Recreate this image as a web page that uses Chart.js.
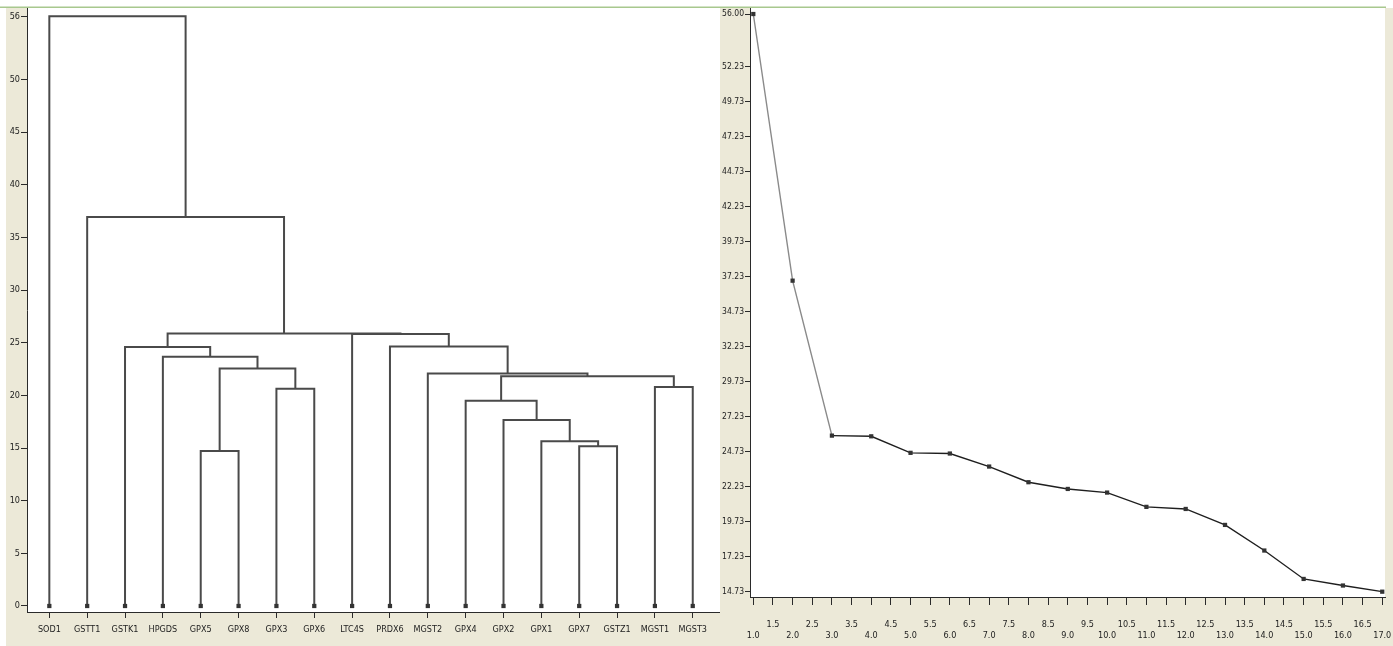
<!DOCTYPE html>
<html>
<head>
<meta charset="utf-8">
<script src="https://cdn.jsdelivr.net/npm/chart.js@4.4.1/dist/chart.umd.min.js"></script>
<style>
  html, body { margin: 0; padding: 0; background: #fff; width: 1393px; height: 646px; overflow: hidden; position: relative; }
  canvas { position: absolute; top: 0; }
  #dendro { left: 0; z-index: 1; }
  #scree { left: 720px; z-index: 2; }
</style>
</head>
<body>
<canvas id="dendro" width="760" height="646"></canvas>
<canvas id="scree" width="673" height="646"></canvas>
<script>
// Leaves of the dendrogram, left to right
const genes = ['SOD1', 'GSTT1', 'GSTK1', 'HPGDS', 'GPX5', 'GPX8', 'GPX3', 'GPX6', 'LTC4S',
               'PRDX6', 'MGST2', 'GPX4', 'GPX2', 'GPX1', 'GPX7', 'GSTZ1', 'MGST1', 'MGST3'];

// Agglomeration schedule: merge k joins node mergeA[k] with node mergeB[k].
// Nodes 0..17 are leaves, node 18+k is the cluster created by merge k.
const mergeA = [4, 14, 13, 12, 11, 6, 16, 22, 10, 18, 3, 2, 9, 8, 29, 1, 0];
const mergeB = [5, 15, 19, 20, 21, 7, 17, 24, 25, 23, 27, 28, 26, 30, 31, 32, 33];

// Fusion coefficients per stage (scree plot, largest first)
const stages = [1, 2, 3, 4, 5, 6, 7, 8, 9, 10, 11, 12, 13, 14, 15, 16, 17];
const coefficients = [56.00, 36.95, 25.88, 25.83, 24.65, 24.60, 23.67, 22.55, 22.07,
                      21.81, 20.79, 20.64, 19.50, 17.67, 15.64, 15.17, 14.73];

// Tick values
const dendroYTicks = [0, 5, 10, 15, 20, 25, 30, 35, 40, 45, 50, 56];
const screeYTicks = [14.73, 17.23, 19.73, 22.23, 24.73, 27.23, 29.73, 32.23, 34.73,
                     37.23, 39.73, 42.23, 44.73, 47.23, 49.73, 52.23, 56.00];
const screeXTicks = [1.0, 1.5, 2.0, 2.5, 3.0, 3.5, 4.0, 4.5, 5.0, 5.5, 6.0, 6.5, 7.0, 7.5,
                     8.0, 8.5, 9.0, 9.5, 10.0, 10.5, 11.0, 11.5, 12.0, 12.5, 13.0, 13.5,
                     14.0, 14.5, 15.0, 15.5, 16.0, 16.5, 17.0];

const FONT = "'Liberation Sans Narrow','Arial Narrow','DejaVu Sans Condensed','Liberation Sans',Arial,sans-serif";
const BEIGE = '#ece9d8';
const AXIS = '#2a2a2a';
const TEXT = '#222';

Chart.defaults.font.family = FONT;
Chart.defaults.font.size = 9;
Chart.defaults.color = TEXT;

// Beige frame, white plotting area and the thin green rule along the top
function makePanel(leftGap) {
  return {
    id: 'panel',
    beforeDraw(chart) {
      const { ctx, chartArea: a, width, height } = chart;
      ctx.save();
      ctx.fillStyle = '#fff';
      ctx.fillRect(0, 0, width, height);
      ctx.fillStyle = BEIGE;
      ctx.fillRect(leftGap, 8, width - leftGap, height - 8);
      ctx.fillStyle = '#fff';
      ctx.fillRect(a.left, a.top, a.right - a.left, a.bottom - a.top);
      ctx.strokeStyle = '#a8c88e';
      ctx.lineWidth = 1.5;
      ctx.beginPath();
      ctx.moveTo(0, 7.25);
      ctx.lineTo(a.right + 1, 7.25);
      ctx.stroke();
      ctx.restore();
    }
  };
}

// ---------- Dendrogram ----------
const mergeHeights = coefficients.slice().reverse();
const nodeX = genes.map((g, i) => i);
const nodeY = genes.map(() => 0);
const linkSets = [];
mergeA.forEach((a, k) => {
  const b = mergeB[k];
  const h = mergeHeights[k];
  linkSets.push({
    data: [
      { x: nodeX[a], y: nodeY[a] },
      { x: nodeX[a], y: h },
      { x: nodeX[b], y: h },
      { x: nodeX[b], y: nodeY[b] }
    ],
    showLine: true,
    borderColor: '#4a4a4a',
    borderWidth: 2,
    borderJoinStyle: 'miter',
    borderCapStyle: 'butt',
    pointRadius: 0,
    tension: 0
  });
  nodeX.push((nodeX[a] + nodeX[b]) / 2);
  nodeY.push(h);
});

new Chart(document.getElementById('dendro'), {
  type: 'scatter',
  data: {
    datasets: [
      {
        data: genes.map((g, i) => ({ x: i, y: 0 })),
        pointStyle: 'rect',
        pointRadius: 3,
        backgroundColor: '#333',
        borderColor: '#333',
        borderWidth: 0,
        showLine: false
      },
      ...linkSets
    ]
  },
  options: {
    responsive: false,
    animation: false,
    devicePixelRatio: 1,
    events: [],
    layout: { padding: { top: 8, right: 40, bottom: 0, left: 0 } },
    plugins: { legend: { display: false }, tooltip: { enabled: false } },
    scales: {
      x: {
        type: 'linear',
        min: -0.59,
        max: 17.72,
        afterBuildTicks: s => { s.ticks = genes.map((g, i) => ({ value: i })); },
        afterFit: s => { s.height = 34; s.paddingLeft = 0; s.paddingRight = 0; },
        ticks: {
          autoSkip: false, maxRotation: 0, minRotation: 0, padding: 6, color: TEXT,
          font: { size: 9 },
          callback: v => genes[v]
        },
        grid: { drawOnChartArea: false, drawTicks: true, tickLength: 6, color: AXIS },
        border: { display: true, color: AXIS, width: 1 }
      },
      y: {
        type: 'linear',
        min: -0.57,
        max: 56.79,
        afterBuildTicks: s => { s.ticks = dendroYTicks.map(v => ({ value: v })); },
        afterFit: s => { s.width = 27; s.paddingTop = 0; s.paddingBottom = 0; },
        ticks: { padding: 1, color: TEXT, font: { size: 9 } },
        grid: { drawOnChartArea: false, drawTicks: true, tickLength: 6, color: AXIS },
        border: { display: true, color: AXIS, width: 1 }
      }
    }
  },
  plugins: [makePanel(6)]
});

// ---------- Scree plot ----------
new Chart(document.getElementById('scree'), {
  type: 'scatter',
  data: {
    datasets: [{
      data: stages.map((s, i) => ({ x: s, y: coefficients[i] })),
      showLine: true,
      tension: 0,
      borderWidth: 1.4,
      borderColor: '#1e1e1e',
      segment: { borderColor: c => (c.p0DataIndex < 2 ? '#8a8a8a' : '#1e1e1e') },
      pointStyle: 'rect',
      pointRadius: 3,
      pointBackgroundColor: '#333',
      pointBorderWidth: 0
    }]
  },
  options: {
    responsive: false,
    animation: false,
    devicePixelRatio: 1,
    events: [],
    layout: { padding: { top: 8, right: 8, bottom: 0, left: 0 } },
    plugins: { legend: { display: false }, tooltip: { enabled: false } },
    scales: {
      x: {
        type: 'linear',
        min: 0.916,
        max: 17.07,
        afterBuildTicks: s => { s.ticks = screeXTicks.map(v => ({ value: v })); },
        afterFit: s => { s.height = 49; s.paddingLeft = 0; s.paddingRight = 0; },
        ticks: {
          autoSkip: false, maxRotation: 0, minRotation: 0, padding: 14, color: TEXT,
          font: { size: 9, lineHeight: 1.2 },
          callback: v => (Math.round(v * 2) % 2 === 0 ? ['', v.toFixed(1)] : [v.toFixed(1), ''])
        },
        grid: { drawOnChartArea: false, drawTicks: true, tickLength: 8, color: AXIS },
        border: { display: true, color: AXIS, width: 1 }
      },
      y: {
        type: 'linear',
        min: 14.35,
        max: 56.43,
        afterBuildTicks: s => { s.ticks = screeYTicks.map(v => ({ value: v })); },
        afterFit: s => { s.width = 30; s.paddingTop = 0; s.paddingBottom = 0; },
        ticks: { padding: 1, color: TEXT, font: { size: 8.5 }, callback: v => v.toFixed(2) },
        grid: { drawOnChartArea: false, drawTicks: true, tickLength: 5, color: AXIS },
        border: { display: true, color: AXIS, width: 1 }
      }
    }
  },
  plugins: [makePanel(0)]
});
</script>
</body>
</html>
